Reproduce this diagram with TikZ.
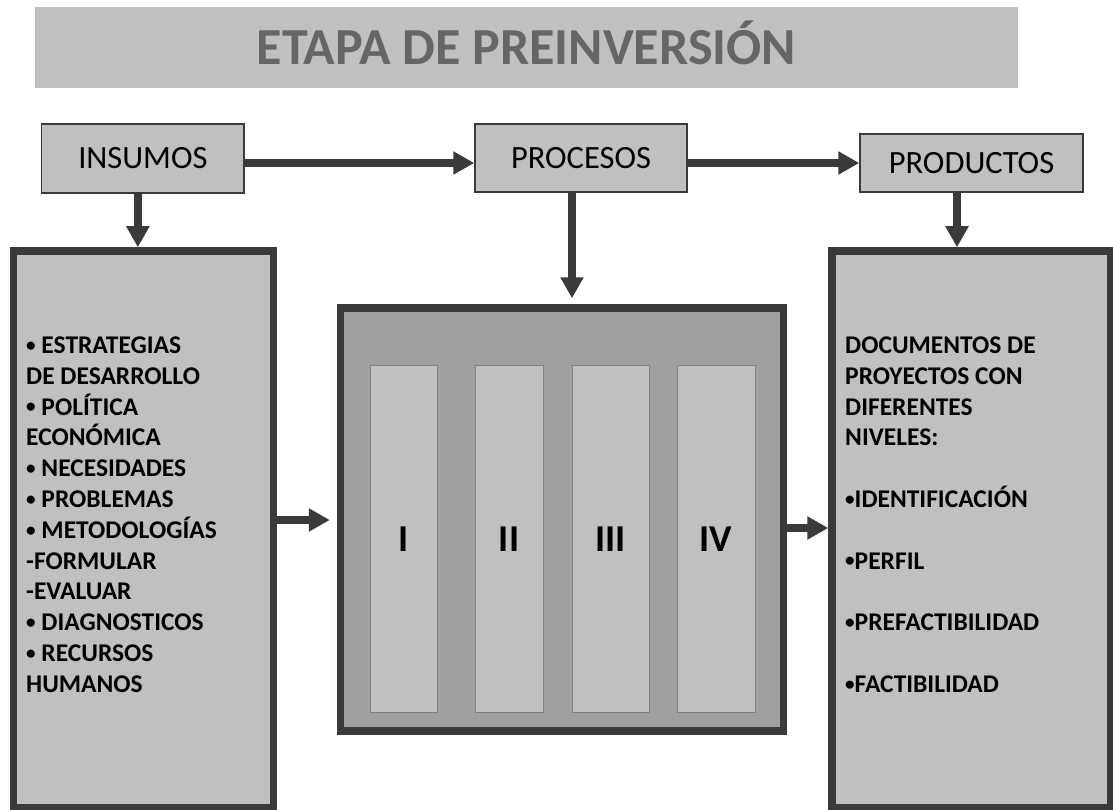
\documentclass[tikz,border=0pt]{standalone}
\usepackage{fontspec}
\setmainfont{Carlito}
\usetikzlibrary{arrows.meta}
\definecolor{boxfill}{HTML}{C0C0C0}
\definecolor{midfill}{HTML}{A0A0A0}
\definecolor{darkline}{HTML}{3A3A3A}
\definecolor{titlegray}{HTML}{666666}
\definecolor{colline}{HTML}{808080}
\newcommand\mybul{\raisebox{0.08em}{\scalebox{0.75}{•}}}
\begin{document}
\begin{tikzpicture}[x=1pt,y=-1pt,
  arr/.style={draw=darkline, line width=7.5pt, -{Triangle[length=21pt,width=22pt]}},
  head/.style={draw=darkline, fill=boxfill, line width=1.5pt, inner sep=0pt, font=\fontsize{32.5}{37}\selectfont},
  bigbox/.style={draw=darkline, fill=boxfill, line width=7.5pt, inner sep=0pt},
  col/.style={draw=colline, fill=boxfill, line width=1pt, inner sep=0pt, minimum height=346.7pt, text height=24.3pt, text depth=0pt, font=\bfseries\fontsize{38}{44}\selectfont},
  list/.style={anchor=north west, inner sep=0pt, align=left, font=\bfseries\fontsize{25.5}{30.8}\selectfont}
]
\useasboundingbox (0,0) rectangle (1113,810);
% title band
\node[fill=boxfill, minimum width=983.3pt, minimum height=81pt, inner sep=0pt, text=titlegray,
      text height=33.5pt, text depth=0pt, font=\bfseries\fontsize{52}{60}\selectfont] (title) at (526.35,47.5) {ETAPA DE PREINVERSIÓN};
% header boxes
\node[head, minimum width=202.3pt, minimum height=69pt] (ins) at (142.85,158.5) {INSUMOS};
\node[head, minimum width=212pt, minimum height=68pt] (pro) at (581,158) {PROCESOS};
\node[head, minimum width=223pt, minimum height=58pt] (prod) at (971.5,163) {PRODUCTOS};
% big boxes
\node[bigbox, minimum width=260pt, minimum height=556.5pt] (lbox) at (143.5,529.25) {};
\node[bigbox, fill=midfill, minimum width=442.8pt, minimum height=423pt] (mbox) at (561.9,519.5) {};
\node[bigbox, minimum width=278.5pt, minimum height=556.5pt] (rbox) at (971.25,529.25) {};
% columns
\node[col, minimum width=67pt] (c1) at (403.5,539.3) {I};
\node[col, minimum width=68pt] (c2) at (509,539.3) {II};
\node[col, minimum width=77pt] (c3) at (610.5,539.3) {III};
\node[col, minimum width=78pt] (c4) at (716,539.3) {IV};
% texts
\node[list] (ltext) at (26,336.5) {\mybul{} ESTRATEGIAS\\DE DESARROLLO\\\mybul{} POLÍTICA\\ECONÓMICA\\\mybul{} NECESIDADES\\\mybul{} PROBLEMAS\\\mybul{} METODOLOGÍAS\\-FORMULAR\\-EVALUAR\\\mybul{} DIAGNOSTICOS\\\mybul{} RECURSOS\\HUMANOS};
\node[list] (rtext) at (845,336.5) {DOCUMENTOS DE\\PROYECTOS CON\\DIFERENTES\\NIVELES:\\[30.8pt]\mybul IDENTIFICACIÓN\\[30.8pt]\mybul PERFIL\\[30.8pt]\mybul PREFACTIBILIDAD\\[30.8pt]\mybul FACTIBILIDAD};
% connectors
\draw[arr] ([yshift=-4.5pt]ins.east) -- ([yshift=-4.5pt]ins.east -| pro.west);
\draw[arr] ([yshift=-5pt]pro.east) -- (prod.west);
\draw[arr] ([xshift=-5pt]ins.south) -- ([xshift=-5pt]ins.south |- lbox.north);
\draw[arr, shorten >=6pt] ([xshift=-9pt]pro.south) -- ([xshift=-9pt]pro.south |- mbox.north);
\draw[arr] ([xshift=-14.5pt]prod.south) -- ([xshift=-14.5pt]prod.south |- rbox.north);
\draw[arr, shorten >=7pt] ([yshift=9.25pt]lbox.east) -- ([yshift=9.25pt]lbox.east -| mbox.west);
\draw[arr] ([yshift=-8.5pt]mbox.east) -- ([yshift=-8.5pt]mbox.east -| rbox.west);
\end{tikzpicture}
\end{document}
